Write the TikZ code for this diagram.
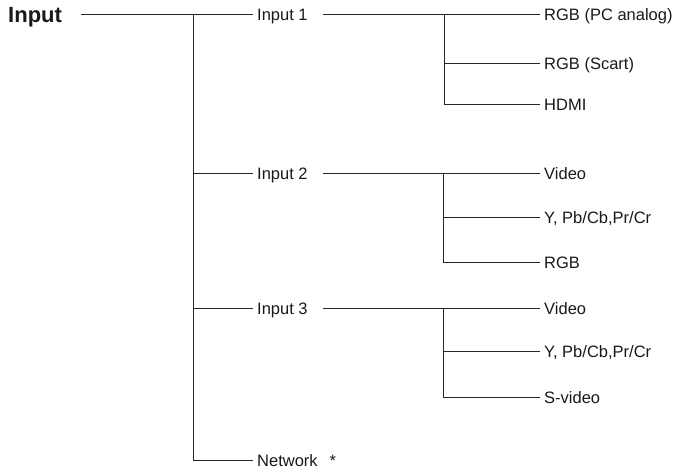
\documentclass[tikz,border=0pt]{standalone}
\usepackage{fontspec}
\setmainfont{Liberation Sans}
\begin{document}
\begin{tikzpicture}[x=1pt,y=-1pt,
  conn/.style={line width=0.9pt,draw=black!85},
  lbl/.style={anchor=west,inner xsep=4pt,inner ysep=0pt,text height=12.6pt,text depth=0pt,
    font=\fontsize{16.5}{18}\selectfont,text=black!90},
  rootlbl/.style={anchor=west,inner sep=0pt,text height=16pt,text depth=0pt,
    font=\fontsize{22}{24}\bfseries\selectfont,text=black!90}]
\useasboundingbox (0,0) rectangle (679,469);
% root
\node[rootlbl] (root) at (8,14.5) {Input};
% level 1
\node[lbl] (i1) at (253,14.5) {Input 1};
\node[lbl] (i2) at (253,173) {Input 2};
\node[lbl] (i3) at (253,308) {Input 3};
\node[lbl] (net) at (253,460) {Network\hspace{12pt}*};
% level 2
\node[lbl] (a1) at (540,14.5) {RGB (PC analog)};
\node[lbl] (a2) at (540,63) {RGB (Scart)};
\node[lbl] (a3) at (540,104) {HDMI};
\node[lbl] (b1) at (540,173) {Video};
\node[lbl] (b2) at (540,217) {Y, Pb/Cb,Pr/Cr};
\node[lbl] (b3) at (540,262) {RGB};
\node[lbl] (c1) at (540,308) {Video};
\node[lbl] (c2) at (540,351) {Y, Pb/Cb,Pr/Cr};
\node[lbl] (c3) at (540,397) {S-video};
% junctions
\coordinate (j0) at (193,14.5);
\coordinate (s1) at (323,14.5);
\coordinate (s2) at (323,173);
\coordinate (s3) at (323,308);
\coordinate (k1) at (444,14.5);
\coordinate (k2) at (443,173);
\coordinate (k3) at (443,308);
% connectors
\draw[conn] ([xshift=19pt]root.east) -- (i1.west);
\draw[conn] (j0) |- (net.west);
\draw[conn] (j0 |- i2.west) -- (i2.west);
\draw[conn] (j0 |- i3.west) -- (i3.west);
\draw[conn] (s1) -- (a1.west);
\draw[conn] (k1) |- (a2.west);
\draw[conn] (k1) |- (a3.west);
\draw[conn] (s2) -- (b1.west);
\draw[conn] (k2) |- (b2.west);
\draw[conn] (k2) |- (b3.west);
\draw[conn] (s3) -- (c1.west);
\draw[conn] (k3) |- (c2.west);
\draw[conn] (k3) |- (c3.west);
\end{tikzpicture}
\end{document}
